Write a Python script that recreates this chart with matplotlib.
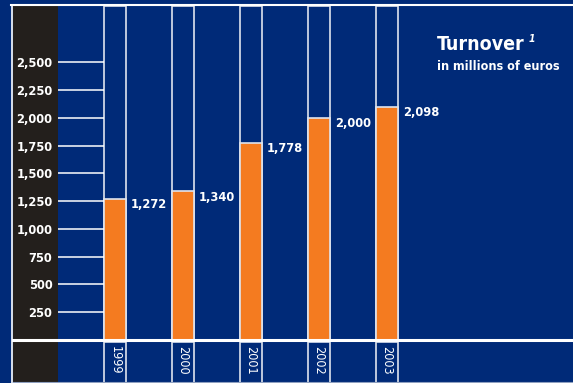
import matplotlib
matplotlib.use('Agg')
import matplotlib.pyplot as plt
from matplotlib.lines import Line2D
from matplotlib.patches import Rectangle
import numpy as np

years = ['1999', '2000', '2001', '2002', '2003']
turnover = [1272, 1340, 1778, 2000, 2098]
value_labels = ['1,272', '1,340', '1,778', '2,000', '2,098']
y_ticks = [250, 500, 750, 1000, 1250, 1500, 1750, 2000, 2250, 2500]
y_tick_labels = ['250', '500', '750', '1,000', '1,250', '1,500', '1,750', '2,000', '2,250', '2,500']

BLUE = '#002a78'
ORANGE = '#f47b20'
PANEL = '#231f1c'
EDGE = '#dfe4ee'

plt.rcParams['font.family'] = ['DejaVu Sans']
plt.rcParams['font.stretch'] = 'condensed'

W, H = 573, 383
fig = plt.figure(figsize=(5.73, 3.83), dpi=100, facecolor=BLUE)

# dark panel on the left and frame lines
fig.add_artist(Rectangle((13 / W, 0), 45 / W, 1 - 6 / H, transform=fig.transFigure,
                         facecolor=PANEL, edgecolor='none', zorder=0))
fig.add_artist(Line2D([11 / W, 1], [1 - 5 / H] * 2, transform=fig.transFigure, color='white', lw=1.5))
fig.add_artist(Line2D([12 / W] * 2, [0, 1 - 5 / H], transform=fig.transFigure, color='white', lw=1.2))
fig.add_artist(Line2D([13 / W, 1], [1 - 340 / H] * 2, transform=fig.transFigure, color='white', lw=2.2, zorder=5))
fig.add_artist(Line2D([13 / W, 1], [1 - 382 / H] * 2, transform=fig.transFigure, color='#8fa0c0', lw=0.8))

x = np.arange(len(years))
width = 22 / 68
xlim = (-57 / 68, 458 / 68)
top = 3007

ax = fig.add_axes([58 / W, 43 / H, 515 / W, 334 / H])
ax.set_facecolor('none')
ax.set_xlim(*xlim)
ax.set_ylim(0, top)
for s in ax.spines.values():
    s.set_visible(False)

# gridlines only in the first column
ax.hlines(y_ticks, xlim[0], x[0] - width / 2, color='white', lw=1.1)
# column outlines
ax.bar(x, top, width, fill=False, edgecolor=EDGE, lw=1.2)
ax.bar(x, turnover, width, color=ORANGE, edgecolor=EDGE, lw=1.2)

for xi, v, lab in zip(x, turnover, value_labels):
    ax.annotate(lab, (xi + width / 2, v), xytext=(5, -6), textcoords='offset pixels',
                ha='left', va='center', color='white', fontsize=9.2, fontweight='bold')

ax.set_xticks([])
ax.set_yticks(y_ticks, y_tick_labels)
ax.tick_params(axis='y', length=0, pad=4, labelcolor='white', labelsize=9.2)
for t in ax.get_yticklabels():
    t.set_fontweight('bold')

# bottom strip with years
axb = fig.add_axes([58 / W, 0, 515 / W, 41 / H])
axb.set_facecolor('none')
axb.set_xlim(*xlim)
axb.set_ylim(0, 1)
axb.axis('off')
axb.bar(x, 1, width, fill=False, edgecolor=EDGE, lw=1.2)
for xi, yr in zip(x, years):
    axb.text(xi, 0.9, yr, rotation=270, ha='center', va='top', color='white', fontsize=9)

fig.text(437 / W, 1 - 45 / H, 'Turnover', color='white', fontsize=14, fontweight='bold',
         ha='left', va='center')
fig.text(532 / W, 1 - 39 / H, '1', color='white', fontsize=7.5, fontweight='bold',
         fontstyle='italic', ha='center', va='center')
fig.text(437 / W, 1 - 66 / H, 'in millions of euros', color='white', fontsize=9,
         fontweight='bold', ha='left', va='center')

fig.savefig('out.png', dpi=100, facecolor=BLUE)
